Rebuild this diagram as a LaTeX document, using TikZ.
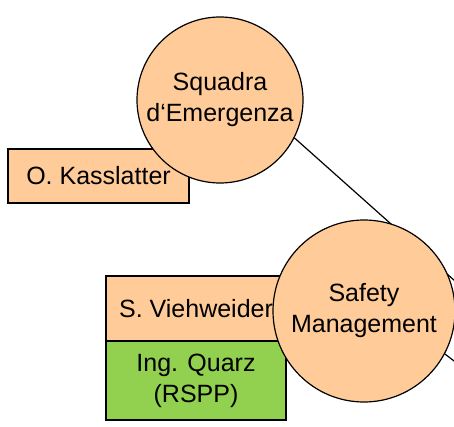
\documentclass[tikz,border=0pt]{standalone}
\usepackage{fontspec}
\setmainfont{Liberation Sans}
\definecolor{peach}{HTML}{FFCC99}
\definecolor{leaf}{HTML}{92D050}
\begin{document}
\begin{tikzpicture}[x=1pt,y=-1pt,
  every node/.style={font=\fontsize{25}{31}\selectfont, text=black},
  person/.style={draw=black, line width=1.2pt, rectangle, inner sep=0pt, align=center},
  unit/.style={draw=black, line width=1.2pt, circle, fill=peach, inner sep=0pt, align=center},
  link/.style={draw=black, line width=1.2pt}]
\useasboundingbox (0,0) rectangle (454,427);
\clip (0,0) rectangle (454,427);
\node[person, fill=peach, minimum width=181pt, minimum height=54pt] (ok) at (98.5,176) {O. Kasslatter};
\node[unit, minimum size=166pt] (se) at (220,100) {Squadra\\d‘Emergenza};
\coordinate (out1) at (293+190,138+168);
\draw[link] (se.-27.5) -- (out1);
\node[person, fill=peach, minimum width=180pt, minimum height=65pt] (sv) at (196,308.5) {S. Viehweider};
\node[person, fill=leaf, minimum width=180pt, minimum height=79pt] (iq) at (196,380.5) {Ing. Quarz\\(RSPP)};
\node[unit, minimum size=182pt] (sm) at (364,311) {Safety\\Management};
\coordinate (out2) at (445+120,355+90);
\draw[link] (sm.-28.5) -- (out2);
\end{tikzpicture}
\end{document}
